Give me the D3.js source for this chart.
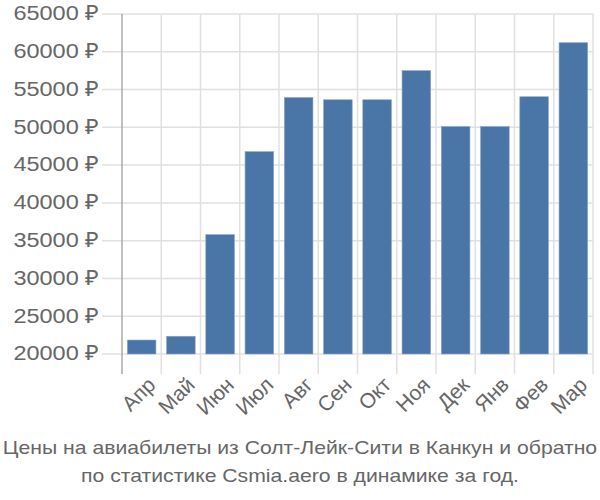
<!DOCTYPE html>
<html>
<head>
  <meta charset="utf-8">
  <script src="https://d3js.org/d3.v7.min.js"></script>
  <style>
    body { margin: 0; background: #fff; font-family: "Liberation Sans", Arial, sans-serif; }
    text { fill: #666; }
  </style>
</head>
<body>
  <svg width="600" height="500"></svg>
  <script>
    var months = ["Апр", "Май", "Июн", "Июл", "Авг", "Сен", "Окт", "Ноя", "Дек", "Янв", "Фев", "Мар"];
    var prices = [21850, 22350, 35800, 46780, 53950, 53650, 53650, 57500, 50100, 50100, 54050, 61200];
    var yTicks = [20000, 25000, 30000, 35000, 40000, 45000, 50000, 55000, 60000, 65000];
    var caption = ["Цены на авиабилеты из Солт-Лейк-Сити в Канкун и обратно",
                   "по статистике Csmia.aero в динамике за год."];

    var svg = d3.select("svg");
    var plotL = 122, plotR = 593, plotT = 14, plotB = 354, axisEnd = 374;

    var x = d3.scaleBand().domain(months).range([plotL, plotR]).paddingInner(0.27).paddingOuter(0.135);
    var y = d3.scaleLinear().domain([20000, 65000]).range([plotB, plotT]);

    // horizontal grid + tick marks on the left
    svg.append("g").selectAll("line").data(yTicks).join("line")
      .attr("x1", plotL - 20).attr("x2", plotR)
      .attr("y1", d => y(d)).attr("y2", d => y(d))
      .attr("stroke", "#e0e0e0").attr("stroke-width", 1.5);

    // vertical grid at band edges
    var edges = d3.range(months.length + 1).map(i => plotL + i * x.step());
    svg.append("g").selectAll("line").data(edges.slice(1)).join("line")
      .attr("x1", d => d).attr("x2", d => d)
      .attr("y1", plotT).attr("y2", axisEnd)
      .attr("stroke", "#e0e0e0").attr("stroke-width", 1.5);

    // y axis line
    svg.append("line")
      .attr("x1", plotL).attr("x2", plotL).attr("y1", plotT).attr("y2", axisEnd)
      .attr("stroke", "#aaa").attr("stroke-width", 1.5);

    // bars
    svg.append("g").selectAll("rect").data(prices).join("rect")
      .attr("x", (d, i) => x(months[i]))
      .attr("y", d => y(d))
      .attr("width", x.bandwidth())
      .attr("height", d => plotB - y(d))
      .attr("fill", "#4a76a7")
      .attr("stroke", "#8ca6c6").attr("stroke-width", 0.6);

    // y labels (reference text is a bit wide, so stretch horizontally)
    svg.append("g").selectAll("text").data(yTicks).join("text")
      .attr("transform", d => "translate(99," + y(d) + ") scale(1.12,1)")
      .attr("dy", "0.3em")
      .attr("text-anchor", "end")
      .style("font-size", "21px")
      .text(d => d + " ₽");

    // x labels
    svg.append("g").selectAll("text").data(months).join("text")
      .attr("transform", d => "translate(" + (x(d) + x.bandwidth() / 2 + 10) + "," + (axisEnd + 7) + ") rotate(-45)")
      .attr("text-anchor", "end")
      .attr("dy", "0.35em")
      .style("font-size", "21px")
      .text(d => d);

    // caption
    svg.append("g").selectAll("text").data(caption).join("text")
      .attr("transform", (d, i) => "translate(300," + (454 + i * 28) + ") scale(1.115,1)")
      .attr("text-anchor", "middle")
      .style("font-size", "19px")
      .text(d => d);
  </script>
</body>
</html>
